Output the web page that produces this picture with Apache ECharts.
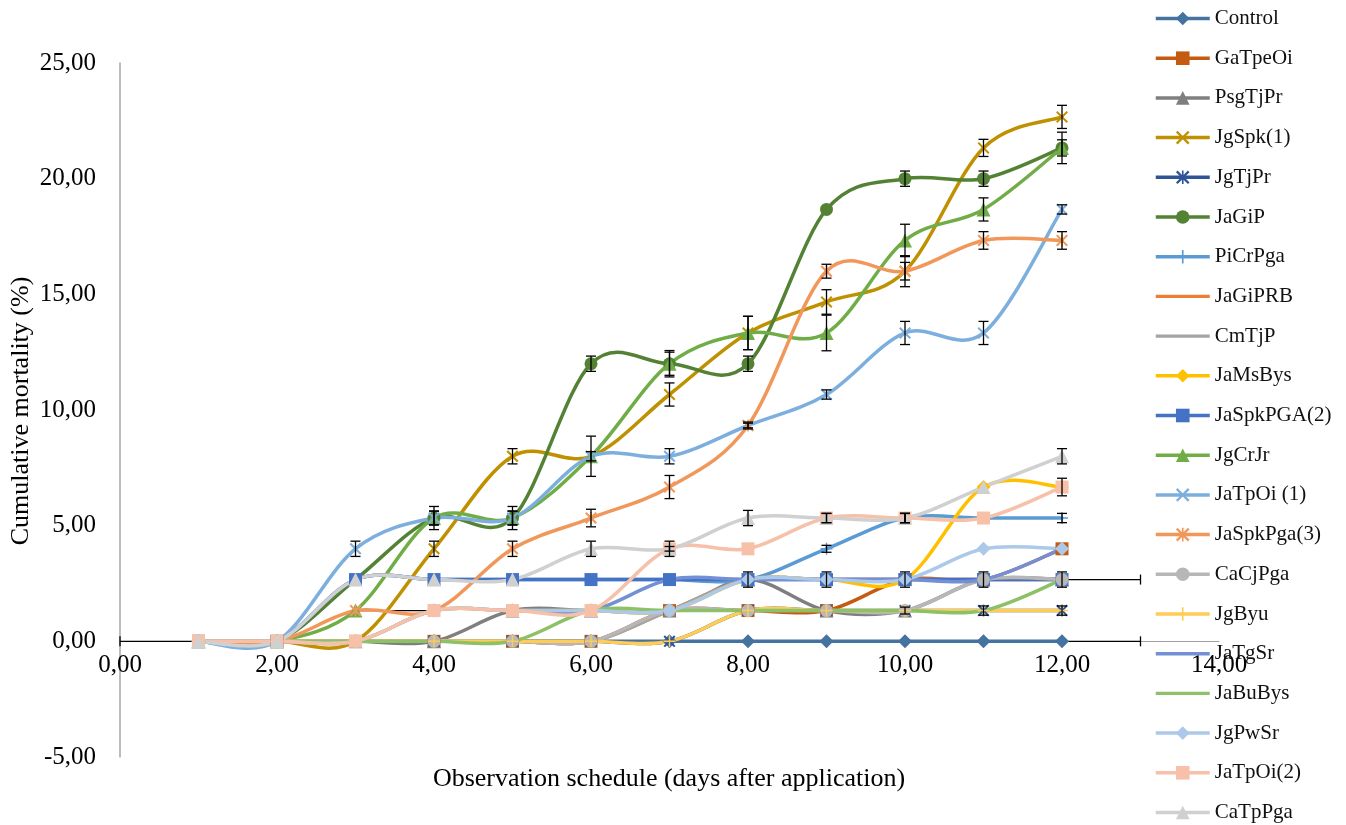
<!DOCTYPE html>
<html>
<head>
<meta charset="utf-8">
<script src="https://cdn.jsdelivr.net/npm/echarts@6/dist/echarts.min.js"></script>
<style>
  html, body { margin: 0; padding: 0; background: #fff; }
  #chart { width: 1346px; height: 825px; }
</style>
</head>
<body>
<div id="chart"></div>
<script>
// observation days
var days = [1, 2, 3, 4, 5, 6, 7, 8, 9, 10, 11, 12];

// cumulative mortality (%) per treatment
var control    = [0, 0, 0, 0, 0, 0, 0, 0, 0, 0, 0, 0];
var gaTpeOi    = [0, 0, 0, 0, 0, 0, 1.33, 1.33, 1.33, 2.67, 2.67, 4];
var psgTjPr    = [0, 0, 0, 0, 1.33, 1.33, 1.33, 2.67, 1.33, 1.33, 2.67, 2.67];
var jgSpk1     = [0, 0, 0, 4, 8, 8, 10.67, 13.33, 14.67, 16, 21.33, 22.67];
var jgTjPr     = [0, 0, 0, 0, 0, 0, 0, 1.33, 1.33, 1.33, 1.33, 1.33];
var jaGiP      = [0, 0, 2.67, 5.33, 5.33, 12, 12, 12, 18.67, 20, 20, 21.33];
var piCrPga    = [0, 0, 2.67, 2.67, 2.67, 2.67, 2.67, 2.67, 4, 5.33, 5.33, 5.33];
var jaGiPRB    = [0, 0, 0, 0, 0, 0, 1.33, 2.67, 2.67, 2.67, 2.67, 2.67];
var cmTjP      = [0, 0, 0, 0, 0, 0, 1.33, 2.67, 2.67, 2.67, 2.67, 2.67];
var jaMsBys    = [0, 0, 0, 1.33, 1.33, 1.33, 1.33, 2.67, 2.67, 2.67, 6.67, 6.67];
var jaSpkPGA2  = [0, 0, 2.67, 2.67, 2.67, 2.67, 2.67, 2.67, 2.67, 2.67, 2.67, 2.67];
var jgCrJr     = [0, 0, 1.33, 5.33, 5.33, 8, 12, 13.33, 13.33, 17.33, 18.67, 21.33];
var jaTpOi1    = [0, 0, 4, 5.33, 5.33, 8, 8, 9.33, 10.67, 13.33, 13.33, 18.67];
var jaSpkPga3  = [0, 0, 1.33, 1.33, 4, 5.33, 6.67, 9.33, 16, 16, 17.33, 17.33];
var caCjPga    = [0, 0, 0, 0, 0, 0, 1.33, 1.33, 1.33, 1.33, 2.67, 2.67];
var jgByu      = [0, 0, 0, 0, 0, 0, 0, 1.33, 1.33, 1.33, 1.33, 1.33];
var jaTgSr     = [0, 0, 0, 1.33, 1.33, 1.33, 2.67, 2.67, 2.67, 2.67, 2.67, 4];
var jaBuBys    = [0, 0, 0, 0, 0, 1.33, 1.33, 1.33, 1.33, 1.33, 1.33, 2.67];
var jgPwSr     = [0, 0, 0, 1.33, 1.33, 1.33, 1.33, 2.67, 2.67, 2.67, 4, 4];
var jaTpOi2    = [0, 0, 0, 1.33, 1.33, 1.33, 4, 4, 5.33, 5.33, 5.33, 6.67];
var caTpPga    = [0, 0, 2.67, 2.67, 2.67, 4, 4, 5.33, 5.33, 5.33, 6.67, 8];

// standard errors (vertical error bars)
var errJgSpk1    = [0, 0, 0, 0.33, 0.33, 0, 0.5, 0.72, 0.53, 0.67, 0.37, 0.5];
var errJaGiP     = [0, 0, 0, 0.5, 0.5, 0.33, 0.57, 0.33, 0, 0.33, 0.33, 0.68];
var errJgCrJr    = [0, 0, 0, 0.3, 0.3, 0.87, 0.5, 0.72, 0.77, 0.7, 0.5, 0.35];
var errJaTpOi1   = [0, 0, 0.33, 0.3, 0.3, 0.2, 0.33, 0.15, 0.2, 0.5, 0.5, 0.2];
var errJaSpkPga3 = [0, 0, 0, 0, 0.33, 0.38, 0.5, 0.1, 0.3, 0.38, 0.38, 0.38];
var errCaTpPga   = [0, 0, 0, 0, 0, 0.33, 0.33, 0.33, 0.2, 0.2, 0, 0.33];
var errJaTpOi2   = [0, 0, 0, 0, 0, 0, 0.1, 0, 0.2, 0.2, 0, 0.38];
var errPiCrPga   = [0, 0, 0, 0, 0, 0, 0, 0, 0.15, 0.2, 0, 0.2];
var errJaSpkPGA2 = [0, 0, 0, 0, 0, 0, 0, 0.33, 0.33, 0.33, 0.33, 0.33];
var errJgTjPr    = [0, 0, 0, 0, 0, 0, 0, 0, 0, 0.15, 0.2, 0.2];

// horizontal error bars still visible outside the lines
var xErrDay   = [1, 12, 12, 3];
var xErrValue = [0, 0, 2.67, 1.33];
var xErrMinus = [1, 0, 0, 0];
var xErrPlus  = [0, 1, 1, 1];

var names = ['Control', 'GaTpeOi', 'PsgTjPr', 'JgSpk(1)', 'JgTjPr', 'JaGiP', 'PiCrPga',
  'JaGiPRB', 'CmTjP', 'JaMsBys', 'JaSpkPGA(2)', 'JgCrJr', 'JaTpOi (1)', 'JaSpkPga(3)',
  'CaCjPga', 'JgByu', 'JaTgSr', 'JaBuBys', 'JgPwSr', 'JaTpOi(2)', 'CaTpPga'];
var values = [control, gaTpeOi, psgTjPr, jgSpk1, jgTjPr, jaGiP, piCrPga, jaGiPRB, cmTjP,
  jaMsBys, jaSpkPGA2, jgCrJr, jaTpOi1, jaSpkPga3, caCjPga, jgByu, jaTgSr, jaBuBys,
  jgPwSr, jaTpOi2, caTpPga];
var errors = {
  'JgSpk(1)': errJgSpk1, 'JaGiP': errJaGiP, 'JgCrJr': errJgCrJr, 'JaTpOi (1)': errJaTpOi1,
  'JaSpkPga(3)': errJaSpkPga3, 'CaTpPga': errCaTpPga, 'JaTpOi(2)': errJaTpOi2,
  'PiCrPga': errPiCrPga, 'JaSpkPGA(2)': errJaSpkPGA2, 'JgTjPr': errJgTjPr
};

var X_MARK = 'path://M0,1.2L1.2,0L5,3.8L8.8,0L10,1.2L6.2,5L10,8.8L8.8,10L5,6.2L1.2,10L0,8.8L3.8,5Z';
var STAR = X_MARK + ' M4.4,0H5.6V10H4.4Z';
var PLUS = 'path://M4.4,0H5.6V4.4H10V5.6H5.6V10H4.4V5.6H0V4.4H4.4Z';
var LINE_ICON = 'path://M0,0H0.05V0.05H0Z M0,6.8H54V10.2H0Z M53.95,16.95H54V17H53.95Z';

var colors = ['#44739f', '#c55a11', '#7f7f7f', '#bf9000', '#2f5597', '#548235', '#5b9bd5',
  '#ed7d31', '#a5a5a5', '#ffc000', '#4472c4', '#70ad47', '#7cafdd', '#f1975a',
  '#b7b7b7', '#ffcd55', '#7490d4', '#8cc168', '#adc9ea', '#f6c0a9', '#d0d0d0'];
var symbols = ['diamond', 'rect', 'triangle', X_MARK, STAR, 'circle', PLUS,
  'none', 'none', 'diamond', 'rect', 'triangle', X_MARK, STAR,
  'circle', PLUS, 'none', 'none', 'diamond', 'rect', 'triangle'];
var sizes = { 'diamond': 14, 'rect': 13, 'triangle': 14, 'circle': 13 };

var font = '"Liberation Serif", "Times New Roman", serif';
var LINE_W = 3.5;
function fmt(v) { return v.toFixed(2).replace('.', ','); }

// Excel-style smoothed line: Catmull-Rom segments turned into cubic beziers
function curveRenderer(vals, color) {
  return function (params, api) {
    var j = params.dataIndex;
    var n = vals.length;
    if (j >= n - 1) return null;
    var pt = function (k) {
      k = Math.max(0, Math.min(n - 1, k));
      return api.coord([days[k], vals[k]]);
    };
    var p0 = pt(j - 1), p1 = pt(j), p2 = pt(j + 1), p3 = pt(j + 2);
    return {
      type: 'bezierCurve',
      shape: {
        x1: p1[0], y1: p1[1], x2: p2[0], y2: p2[1],
        cpx1: p1[0] + (p2[0] - p0[0]) / 6, cpy1: p1[1] + (p2[1] - p0[1]) / 6,
        cpx2: p2[0] - (p3[0] - p1[0]) / 6, cpy2: p2[1] - (p3[1] - p1[1]) / 6
      },
      style: { stroke: color, lineWidth: LINE_W, fill: null, lineCap: 'round' }
    };
  };
}

var series = [];
names.forEach(function (name, i) {
  var sym = symbols[i];
  var pts = days.map(function (d, j) { return [d, values[i][j]]; });
  series.push({
    name: name + ' curve',
    type: 'custom',
    data: pts,
    encode: { x: 0, y: 1 },
    clip: false,
    silent: true,
    renderItem: curveRenderer(values[i], colors[i])
  });
  series.push({
    name: name,
    type: 'line',
    data: pts,
    symbol: sym === 'none' ? 'circle' : sym,
    showSymbol: sym !== 'none',
    symbolSize: sizes[sym] || 12,
    lineStyle: { color: colors[i], width: 0, opacity: 0 },
    itemStyle: { color: colors[i] },
    emphasis: { disabled: true },
    silent: true
  });
});

var errData = [];
names.forEach(function (name, i) {
  var e = errors[name];
  if (!e) return;
  days.forEach(function (d, j) {
    if (e[j] > 0) errData.push([d, values[i][j] - e[j], values[i][j] + e[j]]);
  });
});

var xErrData = xErrDay.map(function (d, k) {
  return [d - xErrMinus[k], d + xErrPlus[k], xErrValue[k], xErrMinus[k], xErrPlus[k]];
});

var barStyle = { stroke: '#000', lineWidth: 1.3, fill: null };

series.push({
  name: 'yerr',
  type: 'custom',
  data: errData,
  encode: { x: 0, y: [1, 2] },
  z: 4,
  silent: true,
  renderItem: function (params, api) {
    var lo = api.coord([api.value(0), api.value(1)]);
    var hi = api.coord([api.value(0), api.value(2)]);
    var w = 5;
    return {
      type: 'group',
      children: [
        { type: 'line', shape: { x1: lo[0], y1: lo[1], x2: hi[0], y2: hi[1] }, style: barStyle },
        { type: 'line', shape: { x1: lo[0] - w, y1: lo[1], x2: lo[0] + w, y2: lo[1] }, style: barStyle },
        { type: 'line', shape: { x1: hi[0] - w, y1: hi[1], x2: hi[0] + w, y2: hi[1] }, style: barStyle }
      ]
    };
  }
});

series.push({
  name: 'xerr',
  type: 'custom',
  data: xErrData,
  encode: { x: [0, 1], y: 2 },
  z: 1,
  silent: true,
  renderItem: function (params, api) {
    var a = api.coord([api.value(0), api.value(2)]);
    var b = api.coord([api.value(1), api.value(2)]);
    var h = 5;
    var kids = [{ type: 'line', shape: { x1: a[0], y1: a[1], x2: b[0], y2: b[1] }, style: barStyle }];
    if (api.value(3) > 0) kids.push({ type: 'line', shape: { x1: a[0], y1: a[1] - h, x2: a[0], y2: a[1] + h }, style: barStyle });
    if (api.value(4) > 0) kids.push({ type: 'line', shape: { x1: b[0], y1: b[1] - h, x2: b[0], y2: b[1] + h }, style: barStyle });
    return { type: 'group', children: kids };
  }
});

var legendData = names.map(function (name, i) {
  return symbols[i] === 'none' ? { name: name, icon: LINE_ICON } : { name: name };
});

var chart = echarts.init(document.getElementById('chart'));
chart.setOption({
  animation: false,
  backgroundColor: '#fff',
  grid: { left: 120, right: 127, top: 63, bottom: 68, containLabel: false },
  xAxis: {
    type: 'value',
    min: 0, max: 14, interval: 2,
    offset: -115.67,
    axisLine: { onZero: false, lineStyle: { color: '#a0a0a0', width: 1 } },
    axisTick: { show: false },
    splitLine: { show: false },
    axisLabel: { formatter: fmt, fontFamily: font, fontSize: 25, color: '#000', margin: 12,
      showMinLabel: true, showMaxLabel: true }
  },
  yAxis: {
    type: 'value',
    min: -5, max: 25, interval: 5,
    axisLine: { show: true, lineStyle: { color: '#a6a6a6', width: 1.5 } },
    axisTick: { show: false },
    splitLine: { show: false },
    axisLabel: { formatter: fmt, fontFamily: font, fontSize: 25, color: '#000', margin: 24 }
  },
  legend: {
    orient: 'vertical',
    left: 1154, top: 8,
    padding: 0,
    itemWidth: 54, itemHeight: 17, itemGap: 18.7,
    data: legendData,
    lineStyle: { width: LINE_W, opacity: 1 },
    textStyle: { fontFamily: font, fontSize: 21, color: '#111', lineHeight: 21 }
  },
  graphic: [
    { type: 'text', x: 21, y: 411, rotation: Math.PI / 2,
      style: { text: 'Cumulative mortality (%)', font: '26px ' + font, fill: '#000',
        textAlign: 'center', textVerticalAlign: 'middle' } },
    { type: 'text', x: 669, y: 779,
      style: { text: 'Observation schedule (days after application)', font: '26px ' + font, fill: '#000',
        textAlign: 'center', textVerticalAlign: 'middle' } }
  ],
  series: series
});
</script>
</body>
</html>
